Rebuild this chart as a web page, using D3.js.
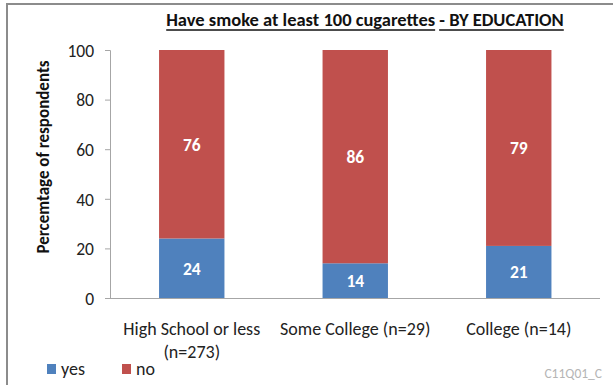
<!DOCTYPE html>
<html><head><meta charset="utf-8">
<script src="https://cdn.jsdelivr.net/npm/d3@7"></script>
<style>
body{margin:0;background:#fff;}
text{font-family:Carlito,Lato,"Open Sans",sans-serif;}
</style></head>
<body><svg id="c" width="613" height="385"></svg>
<script>
const categories = ["High School or less|(n=273)", "Some College (n=29)", "College (n=14)"];
const yesValues = [24, 14, 21];
const noValues = [76, 86, 79];
const seriesNames = ["yes", "no"];
const seriesColors = ["#4F81BD", "#C0504D"];
const yTicks = [0, 20, 40, 60, 80, 100];
const titleParts = ["Have smoke at least 100 cugarettes", " - BY EDUCATION"];
const yTitle = "Percemtage of respondents";
const footnote = "C11Q01_C";

const svg = d3.select("#c");
// frame
svg.append("path").attr("d","M7,385V4H613").attr("fill","none").attr("stroke","#8c8c8c").attr("stroke-width",2);

const x = d3.scaleBand().domain(categories).range([110, 600.5]).paddingInner(0.6).paddingOuter(0.3);
const y = d3.scaleLinear().domain([0, 100]).range([298, 50]);

// y axis
const yAxis = d3.axisLeft(y).tickValues(yTicks).tickSize(5).tickPadding(11);
const gy = svg.append("g").attr("transform","translate(110,0)").call(yAxis);
gy.select(".domain").attr("stroke","#a6a6a6").attr("d","M-5,50.5H0.5V298.5");
gy.selectAll(".tick line").attr("stroke","#a6a6a6");
gy.selectAll(".tick text").attr("font-size",17.5).attr("fill","#222").attr("dy","0.36em").style("font-family","Carlito,Lato,sans-serif");

// x axis line
svg.append("line").attr("x1",110).attr("x2",600).attr("y1",298.5).attr("y2",298.5).attr("stroke","#a6a6a6");

// stacked data
const rows = categories.map((c,i)=>({cat:c, yes:yesValues[i], no:noValues[i]}));
const stack = d3.stack().keys(seriesNames)(rows);
const g = svg.append("g");
stack.forEach((s,si)=>{
  g.selectAll(null).data(s).enter().append("rect")
    .attr("x", d=>x(d.data.cat)).attr("width", x.bandwidth())
    .attr("y", d=>y(d[1])).attr("height", d=>y(d[0])-y(d[1]))
    .attr("fill", seriesColors[si]);
  g.selectAll(null).data(s).enter().append("text")
    .attr("x", d=>x(d.data.cat)+x.bandwidth()/2)
    .attr("y", d=>y((d[0]+d[1])/2)+6.5)
    .attr("text-anchor","middle").attr("fill","#fff").attr("font-weight","bold").attr("font-size",17.5)
    .text(d=>d[1]-d[0]);
});

// x labels
categories.forEach(c=>{
  const lines = c.split("|");
  const t = svg.append("text").attr("text-anchor","middle").attr("font-size",18).attr("fill","#222");
  lines.forEach((l,i)=>t.append("tspan").attr("x", x(c)+x.bandwidth()/2).attr("y", 335+i*23).text(l));
});

// y title
svg.append("text").attr("transform","translate(49,157) rotate(-90)").attr("text-anchor","middle")
  .attr("font-size",17).attr("font-weight","bold").attr("fill","#111").text(yTitle);

// title
const tt = svg.append("text").attr("x",365).attr("y",26).attr("text-anchor","middle")
  .attr("font-size",18.5).attr("font-weight","bold").attr("fill","#111");
const sp1 = tt.append("tspan").text(titleParts[0]);
const sp2 = tt.append("tspan").text(titleParts[1]);
const bb = tt.node().getBBox();
const w1 = sp1.node().getComputedTextLength();
const spaceW = 4;
svg.append("line").attr("x1",bb.x).attr("x2",bb.x+w1).attr("y1",30).attr("y2",30).attr("stroke","#111").attr("stroke-width",1.6);
svg.append("line").attr("x1",bb.x+w1+spaceW).attr("x2",bb.x+bb.width).attr("y1",30).attr("y2",30).attr("stroke","#111").attr("stroke-width",1.6);

// legend
const lg = svg.append("g");
[[47,"yes"],[122,"no"]].forEach((p,i)=>{
  lg.append("rect").attr("x",p[0]).attr("y",364).attr("width",9).attr("height",10).attr("fill",seriesColors[i]);
  lg.append("text").attr("x",p[0]+14).attr("y",375).attr("font-size",18).attr("fill","#222").text(seriesNames[i]);
});

svg.append("text").attr("x",602).attr("y",378).attr("text-anchor","end").attr("font-size",13.5).attr("fill","#b5b5b5").text(footnote);
</script></body></html>
